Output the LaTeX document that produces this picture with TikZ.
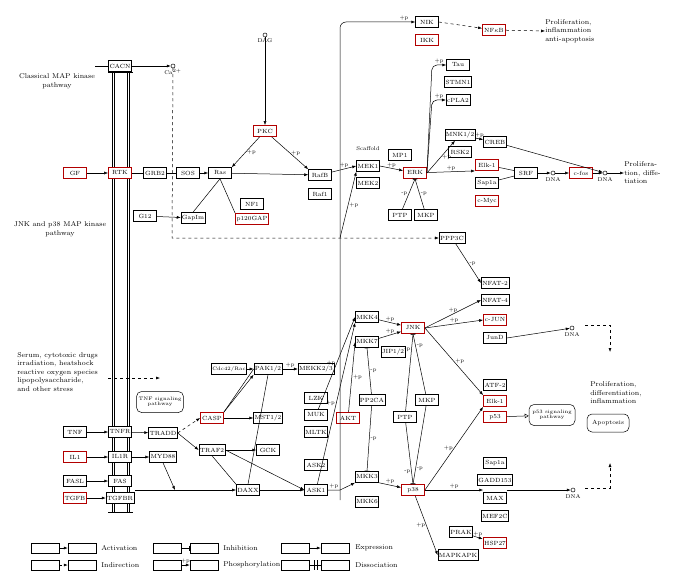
\documentclass[tikz,border=0pt]{standalone}
\usetikzlibrary{arrows.meta,positioning}
\tikzset{
  gene/.style={draw,inner sep=1pt,minimum height=11pt,minimum width=23pt,font=\fontsize{6}{6}\selectfont},
  hit/.style={gene,draw=red!70!black,line width=0.8pt},
  path box/.style={draw,rounded corners=5pt,align=center,inner sep=2pt,font=\fontsize{5}{5.5}\selectfont},
  cpd/.style={draw,circle,inner sep=0,minimum size=4pt},
  txt/.style={font=\fontsize{7}{8.5}\selectfont,align=left,inner sep=0},
  act/.style={-{Latex[length=4pt,width=3pt]}},
  inh/.style={-{Bar[width=5pt]}},
  pl/.style={font=\fontsize{5.5}{5.5}\selectfont,inner sep=1pt}
}
\begin{document}
\begin{tikzpicture}[x=1pt,y=-1pt,line width=0.5pt]
\useasboundingbox (0,0) rectangle (700,583);

% membrane
\foreach \xx in {112,114,127,129} \draw (\xx,72) -- (\xx,512);
\foreach \yy in {72,512} \draw (108,\yy) -- (133,\yy);

% top left
\node[gene,fill=white] (cacn) at (120,66) {CACN};
\node[cpd] (ca) at (173,66) {};
\node[pl,below=0pt of ca] {Ca$^{2+}$};
\node[txt,align=center] at (57,81) {Classical MAP kinase\\pathway};
\node[cpd] (dag) at (265,35) {};
\node[pl,below=0pt of dag] {DAG};
\node[hit] (pkc) at (265,131) {PKC};
\node[hit] (gf) at (75,173) {GF};
\node[hit,fill=white] (rtk) at (120,173) {RTK};
\node[gene] (grb2) at (155,173) {GRB2};
\node[gene] (sos) at (188,173) {SOS};
\node[gene] (ras) at (220,173) {Ras};
\node[gene] (rafb) at (320,175) {RafB};
\node[gene] (raf1) at (320,194) {Raf1};
\node[gene] (nf1) at (252,204) {NF1};
\node[hit] (gap) at (252,219) {p120GAP};
\node[gene] (g12) at (145,216) {G12};
\node[gene] (gapim) at (193,218) {GapIm};
\node[txt,align=center] at (60,229) {JNK and p38 MAP kinase\\pathway};

% ERK branch
\node[gene] (nik) at (427,22) {NIK};
\node[hit] (ikk) at (427,40) {IKK};
\node[hit] (nfkb) at (494,30) {NF$\kappa$B};
\node[txt,anchor=west] (prolif1) at (545,31) {Proliferation,\\inflammation\\anti-apoptosis};
\node[gene] (tau) at (458,65) {Tau};
\node[gene] (stmn) at (458,82) {STMN1};
\node[gene] (cpla) at (458,100) {cPLA2};
\node[pl] at (368,149) {Scaffold};
\node[gene] (mek1) at (368,166) {MEK1};
\node[gene] (mek2) at (368,183) {MEK2};
\node[gene] (mp1) at (400,155) {MP1};
\node[hit] (erk) at (415,173) {ERK};
\node[gene] (ptpa) at (400,215) {PTP};
\node[gene] (mkpa) at (426,215) {MKP};
\node[gene] (mnk) at (460,135) {MNK1/2};
\node[gene] (rsk) at (460,152) {RSK2};
\node[gene] (creb) at (495,142) {CREB};
\node[hit] (elka) at (487,165) {Elk-1};
\node[gene] (sapa) at (487,183) {Sap1a};
\node[hit] (myc) at (487,201) {c-Myc};
\node[gene] (srf) at (526,173) {SRF};
\node[cpd] (dna1) at (553,173) {};
\node[pl,below=1pt of dna1] {DNA};
\node[hit] (fos) at (581,173) {c-fos};
\node[cpd] (dna2) at (605,173) {};
\node[pl,below=1pt of dna2] {DNA};
\node[txt,anchor=west] (prolif2) at (624,173) {Prolifera-\\tion, diffe-\\tiation};
\node[gene] (ppp) at (452,238) {PPP3C};

% JNK / p38
\node[gene] (nfat2) at (495,283) {NFAT-2};
\node[gene] (nfat4) at (495,300) {NFAT-4};
\node[hit] (cjun) at (495,320) {c-JUN};
\node[gene] (jund) at (495,338) {JunD};
\node[cpd] (dna3) at (572,328) {};
\node[pl,below=1pt of dna3] {DNA};
\node[gene] (mkk4) at (367,317) {MKK4};
\node[gene] (mkk7) at (367,342) {MKK7};
\node[hit] (jnk) at (413,328) {JNK};
\node[gene] (jip) at (393,352) {JIP1/2};
\node[txt,anchor=west] at (590,393) {Proliferation,\\differentiation,\\inflammation};
\node[path box,minimum width=42pt,minimum height=18pt,font=\fontsize{6}{6}\selectfont] (apo) at (608,423) {Apoptosis};
\node[gene] (atf) at (495,385) {ATF-2};
\node[hit] (elkb) at (495,401) {Elk-1};
\node[hit] (p53) at (495,417) {p53};
\node[path box,minimum width=46pt,minimum height=21pt] (p53p) at (552,415) {p53 signaling\\pathway};
\node[gene] (pp2ca) at (372,400) {PP2CA};
\node[hit] (akt) at (348,418) {AKT};
\node[gene] (ptpb) at (405,417) {PTP};
\node[gene] (mkpb) at (427,400) {MKP};
\node[gene] (mkk3) at (367,477) {MKK3};
\node[gene] (mkk6) at (367,502) {MKK6};
\node[hit] (p38) at (413,490) {p38};
\node[gene] (sapb) at (495,463) {Sap1a};
\node[gene] (gadd) at (495,480) {GADD153};
\node[gene] (max) at (495,498) {MAX};
\node[gene] (mef) at (495,516) {MEF2C};
\node[cpd] (dna4) at (573,490) {};
\node[pl,below=1pt of dna4] {DNA};
\node[gene] (prak) at (461,532) {PRAK};
\node[hit] (hsp) at (495,543) {HSP27};
\node[gene] (mapk) at (458,555) {MAPKAPK};

% stress side
\node[gene] (lzk) at (316,398) {LZK};
\node[gene] (muk) at (316,415) {MUK};
\node[gene] (mltk) at (316,432) {MLTK};
\node[gene] (ask2) at (316,465) {ASK2};
\node[gene] (ask1) at (316,490) {ASK1};
\node[gene,font=\fontsize{5}{5}\selectfont] (cdc) at (229,369) {Cdc42/Rac};
\node[gene] (pak) at (268,369) {PAK1/2};
\node[gene] (mekk) at (316,369) {MEKK2/3};
\node[gene] (mst) at (268,418) {MST1/2};
\node[gene] (gck) at (268,450) {GCK};
\node[gene] (daxx) at (248,490) {DAXX};
\node[path box,minimum width=42pt,minimum height=21pt] (tnfp) at (160,402) {TNF signaling\\pathway};
\node[hit] (casp) at (212,418) {CASP};
\node[gene] (traf) at (212,450) {TRAF2};
\node[gene] (tradd) at (163,433) {TRADD};
\node[gene] (tnf) at (75,432) {TNF};
\node[gene,fill=white] (tnfr) at (120,432) {TNFR};
\node[hit] (il1) at (75,457) {IL1};
\node[gene,fill=white] (il1r) at (120,457) {IL1R};
\node[gene] (myd) at (163,457) {MYD88};
\node[gene] (fasl) at (75,481) {FASL};
\node[gene,fill=white] (fas) at (120,481) {FAS};
\node[hit] (tgfb) at (75,498) {TGFB};
\node[gene,fill=white] (tgfbr) at (120,498) {TGFBR};
\node[txt,anchor=north west] (stress) at (17,352) {Serum, cytotoxic drugs\\irradiation, heatshock\\reactive oxygen species\\lipopolysaccharide,\\and other stress};
\coordinate (st1) at (108,378);
\coordinate (st2) at (160,378);

% classical arrows
\coordinate (cin) at (95,66);
\draw (cin) -- (cacn);
\draw[act] (cacn) -- (ca);
\draw[act] (dag) -- (pkc);
\draw[act] (gf) -- (rtk);
\draw (rtk) -- (grb2) (grb2) -- (sos);
\draw[act] (sos) -- (ras);
\draw[act] (ras) -- (rafb);
\draw[act] (pkc) -- node[pl,right]{+p} (ras.north east);
\draw[act] (pkc) -- node[pl,right]{+p} (rafb.north west);
\draw[act] (g12) -- (gapim);
\draw (gapim.north) -- (ras.south);
\draw (gap.north west) -- (ras.south);
\coordinate (ca1) at (172,238);
\coordinate (v1) at (340,238);
\draw[dashed,act] (ca) -- (ca1) -- (v1) -- (ppp);

% vertical trunk
\coordinate (vt) at (340,22);
\coordinate (vb) at (340,500);
\coordinate (v2) at (340,490);
\draw[act,rounded corners=6pt] (vb) -- (vt) -- node[pl,above,pos=0.85]{+p} (nik);
\draw[act] (rafb) -- node[pl,above]{+p} (mek1.west);
\draw[act] (v1) -- node[pl,right]{+p} (mek1.south west);
\draw[act,dashed] (nik.east) -- (nfkb);
\draw[act,dashed] (nfkb) -- (prolif1.west);

% ERK arrows
\draw[act] (mek1.east) -- node[pl,above]{+p} (erk);
\draw[act,rounded corners=5pt] (erk.east) -- (432,65) -- node[pl,above]{+p} (tau);
\draw[act,rounded corners=5pt] (erk.east) -- (432,100) -- node[pl,above]{+p} (cpla);
\draw[act] (erk.east) -- node[pl,right]{+p} (mnk);
\draw[act] (erk) -- node[pl,above]{+p} (elka.south west);
\draw[inh] (ptpa) -- node[pl,left]{-p} (erk.south);
\draw[inh] (mkpa) -- node[pl,right]{-p} (erk.south);
\draw[act] (mnk) -- node[pl,above]{+p} (creb);
\draw[act] (creb) -- (dna2);
\draw (elka) -- (srf) (sapa) -- (srf);
\draw[act] (srf) -- (dna1);
\draw[act] (dna1) -- (fos);
\draw[act] (fos) -- (dna2);
\draw[act] (dna2) -- (prolif2.west);
\draw[act] (ppp) -- node[pl,right]{-p} (nfat2.west);

% JNK arrows
\draw[act] (mkk4) -- node[pl,above]{+p} (jnk);
\draw[act] (mkk7) -- node[pl,above]{+p} (jnk);
\draw[act] (jnk.east) -- node[pl,above]{+p} (nfat4.west);
\draw[act] (jnk.east) -- node[pl,above]{+p} (cjun.west);
\draw[act] (jnk.east) -- node[pl,right]{+p} (elkb.north west);
\draw[act] (jund.east) -- (dna3);
\coordinate (d3a) at (585,325);
\coordinate (d3b) at (610,325);
\coordinate (d3c) at (610,352);
\draw[act,dashed] (d3a) -- (d3b) -- (d3c);
\draw[inh] (ptpb) -- node[pl,left,pos=0.8]{-p} (jnk.south);
\draw[inh] (mkpb) -- node[pl,right,pos=0.8]{-p} (jnk.south);
\draw[inh] (ptpb) -- node[pl,left,pos=0.8]{-p} (p38.north);
\draw[inh] (mkpb) -- node[pl,right,pos=0.8]{-p} (p38.north);
\draw[inh] (pp2ca) -- node[pl,right]{-p} (mkk7.south);
\draw[inh] (pp2ca) -- node[pl,right]{-p} (mkk3.north);
\draw[act] (akt) -- node[pl,right]{+p} (mkk7.west);
\draw[act] (muk) -- node[pl,left]{+p} (mkk4.west);
\draw[act] (ask1) -- node[pl,left]{+p} (mkk4.south west);
\draw[act] (ask1) -- node[pl,above]{+p} (v2) -- (mkk3.south west);
\draw[act] (mkk3.south east) -- node[pl,above]{+p} (p38);
\draw[-{Triangle[open,length=4pt]}] (p53) -- (p53p);

% p38 arrows
\draw[act] (p38.east) -- node[pl,left]{+p} (elkb.south west);
\draw[act] (p38.east) -- node[pl,above]{+p} (max.west |- p38);
\draw[act] (p38) -- node[pl,left]{+p} (mapk.west);
\draw[act] (prak) -- node[pl,above]{+p} (hsp);
\draw[act] (max.east |- p38) -- (dna4);
\coordinate (d4a) at (585,488);
\coordinate (d4b) at (610,488);
\coordinate (d4c) at (610,463);
\draw[act,dashed] (d4a) -- (d4b) -- (d4c);

% stress arrows
\draw[act,dashed] (st1) -- (st2);
\draw[act] (tnf) -- (tnfr);
\draw[act] (tnfr) -- (tradd);
\draw[act] (il1) -- (il1r);
\draw[act] (il1r) -- (myd);
\draw[act] (fasl) -- (fas);
\draw[act] (tgfb) -- (tgfbr);
\draw[act,dashed] (tradd.east) -- (casp.west);
\draw[act] (tradd.east) -- (traf.west);
\draw[act] (cdc) -- (pak);
\draw[act] (pak) -- node[pl,above]{+p} (mekk);
\draw[act] (casp.north east) -- (pak.south west);
\draw (casp.north east) -- (pak.west);
\draw[act] (casp) -- (mst);
\draw[act] (traf) -- (gck);
\draw[act] (traf.east) -- (ask1.west);
\draw (traf.south) -- (daxx.north west);
\draw (pak.south) -- (daxx.north);
\coordinate (fl) at (135,490);
\coordinate (fm) at (175,490);
\draw[act] (fl) -- (daxx);
\draw[act] (myd.south) -- (fm);
\draw[act] (daxx) -- (ask1);

% legend
\begin{scope}[every node/.style={gene,minimum width=28pt,minimum height=10pt}]
\node (la1) at (45,548) {};  \node (la2) at (82,548) {};
\node (lb1) at (45,565) {};  \node (lb2) at (82,565) {};
\node (lc1) at (167,548) {}; \node (lc2) at (204,548) {};
\node (ld1) at (167,565) {}; \node (ld2) at (204,565) {};
\node (le1) at (295,548) {}; \node (le2) at (335,548) {};
\node (lf1) at (295,565) {}; \node (lf2) at (335,565) {};
\end{scope}
\draw[act] (la1) -- (la2);
\draw[act,dashed] (lb1) -- (lb2);
\draw[inh] (lc1) -- (lc2);
\draw[act] (ld1) -- node[pl,above]{+p} (ld2);
\draw[act] (le1) -- (le2);
\draw (lf1) -- (lf2);
\draw (314,560) -- (314,570) (317,560) -- (317,570);
\node[txt,anchor=west] at (101,548) {Activation};
\node[txt,anchor=west] at (101,565) {Indirection};
\node[txt,anchor=west] at (223,548) {Inhibition};
\node[txt,anchor=west] at (223,565) {Phosphorylation};
\node[txt,anchor=west] at (355,548) {Expression};
\node[txt,anchor=west] at (355,565) {Dissociation};
\end{tikzpicture}
\end{document}
